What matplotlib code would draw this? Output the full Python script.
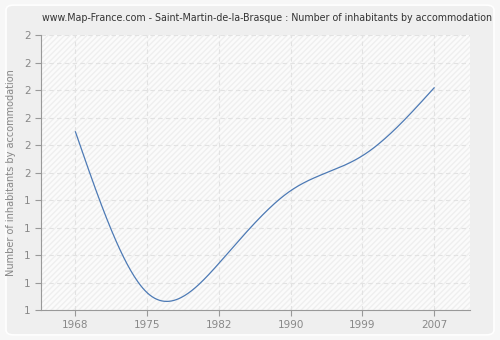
import matplotlib
matplotlib.use("Agg")
import matplotlib.pyplot as plt
import numpy as np
from matplotlib.patches import FancyBboxPatch, Rectangle

years = ["1968", "1975", "1982", "1990", "1999", "2007"]
ratio = [1.648, 1.063, 1.170, 1.434, 1.561, 1.808]
y_ticks = [1.0, 1.1, 1.2, 1.3, 1.4, 1.5, 1.6, 1.7, 1.8, 1.9, 2.0]
y_labels = ["1", "1", "1", "1", "1", "2", "2", "2", "2", "2", "2"]


def natural_spline(x, y, n=300):
    x = np.asarray(x, float)
    y = np.asarray(y, float)
    k = len(x)
    h = np.diff(x)
    A = np.zeros((k, k))
    r = np.zeros(k)
    A[0, 0] = A[-1, -1] = 1.0
    for i in range(1, k - 1):
        A[i, i - 1] = h[i - 1]
        A[i, i] = 2 * (h[i - 1] + h[i])
        A[i, i + 1] = h[i]
        r[i] = 3 * ((y[i + 1] - y[i]) / h[i] - (y[i] - y[i - 1]) / h[i - 1])
    c = np.linalg.solve(A, r)
    xs = np.linspace(x[0], x[-1], n)
    idx = np.clip(np.searchsorted(x, xs) - 1, 0, k - 2)
    dx = xs - x[idx]
    b = (y[1:] - y[:-1]) / h - h * (2 * c[:-1] + c[1:]) / 3
    d = (c[1:] - c[:-1]) / (3 * h)
    ys = y[idx] + b[idx] * dx + c[idx] * dx ** 2 + d[idx] * dx ** 3
    return xs, ys


fig = plt.figure(figsize=(5, 3.4), dpi=100, facecolor="#f7f7f7")
fig.patches.append(FancyBboxPatch((0.012, 0.015), 0.976, 0.97,
                                  boxstyle="round,pad=0,rounding_size=0.015",
                                  transform=fig.transFigure, facecolor="#efefef",
                                  edgecolor="#ffffff", linewidth=1.2, zorder=-1))

ax = fig.add_axes([0.082, 0.088, 0.858, 0.809])
ax.set_facecolor("#fbfbfb")
ax.add_patch(Rectangle((0, 0), 1, 1, transform=ax.transAxes, facecolor="none",
                       edgecolor="#efefef", hatch="//////", linewidth=0, zorder=0))

pos = np.arange(len(years))
xs, ys = natural_spline(pos, ratio)
ax.plot(xs, ys, color="#4d7ab5", linewidth=0.9, zorder=3)

ax.set_xlim(-0.48, 5.5)
ax.set_ylim(1.0, 2.0)
ax.set_xticks(pos)
ax.set_xticklabels(years)
ax.set_yticks(y_ticks)
ax.set_yticklabels(y_labels)

ax.grid(True, color="#e2e2e2", linestyle=(0, (4, 3)), linewidth=0.8, zorder=1)
ax.set_axisbelow(True)
for s in ["top", "right"]:
    ax.spines[s].set_visible(False)
for s in ["left", "bottom"]:
    ax.spines[s].set_color("#999999")
ax.tick_params(colors="#999999", labelcolor="#888888", labelsize=7.5, length=4, width=0.8)

ax.set_ylabel("Number of inhabitants by accommodation", fontsize=7, color="#888888", labelpad=6)
fig.text(0.533, 0.948, "www.Map-France.com - Saint-Martin-de-la-Brasque : Number of inhabitants by accommodation",
         ha="center", va="center", fontsize=6.85, color="#333333")

fig.savefig("out.png", dpi=100, facecolor=fig.get_facecolor())
